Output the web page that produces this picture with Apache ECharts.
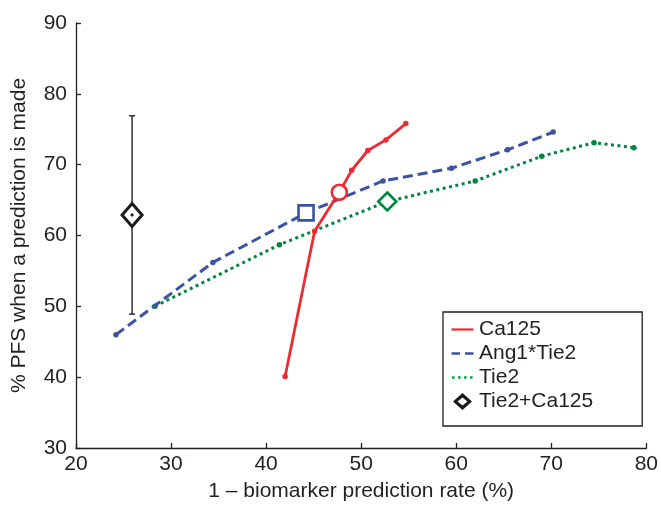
<!DOCTYPE html>
<html>
<head>
<meta charset="utf-8">
<script src="https://cdn.jsdelivr.net/npm/echarts@6/dist/echarts.min.js"></script>
<style>
html,body{margin:0;padding:0;background:#fff;}
#chart{width:661px;height:507px;}
</style>
</head>
<body>
<div id="chart"></div>
<script>
// ---- data ----
var ca125X = [42.0, 45.1, 47.7, 49.0, 50.7, 52.6, 54.7];
var ca125Y = [40.1, 60.6, 66.1, 69.2, 72.0, 73.5, 75.8];
var ca125Highlight = 2;

var angX = [24.2, 34.4, 44.2, 52.3, 59.5, 65.4, 70.2];
var angY = [46.0, 56.2, 63.2, 67.7, 69.5, 72.1, 74.6];
var angHighlight = 2;

var tie2X = [28.3, 41.4, 52.75, 62.0, 69.0, 74.5, 78.7];
var tie2Y = [50.0, 58.7, 64.8, 67.7, 71.2, 73.1, 72.4];
var tie2Highlight = 2;

var comboX = [25.9];
var comboY = [62.9];
var comboLow = [48.9];
var comboHigh = [76.9];

var xTicks = [20, 30, 40, 50, 60, 70, 80];
var yTicks = [30, 40, 50, 60, 70, 80, 90];
var seriesNames = ['Ca125', 'Ang1*Tie2', 'Tie2', 'Tie2+Ca125'];

// ---- styles ----
var RED = '#ec2a30', BLUE = '#3a53a4', GREEN = '#00853f', BLACK = '#1a1a1a';
var FONT = 'Liberation Sans, Arial, Helvetica, sans-serif';
var TXT = '#231f20';
var FS = 21;

function buildLine(xs, ys, hi, color, bigSymbol, bigSize) {
  return xs.map(function (x, i) {
    if (i === hi) {
      return {
        value: [x, ys[i]],
        symbol: bigSymbol,
        symbolSize: bigSize,
        itemStyle: { color: '#fff', borderColor: color, borderWidth: 2.6 },
        z: 10
      };
    }
    return { value: [x, ys[i]] };
  });
}

var chart = echarts.init(document.getElementById('chart'), null, { renderer: 'canvas' });

var axisCommon = {
  type: 'value',
  interval: 10,
  axisLine: { show: true, lineStyle: { color: TXT, width: 1.3 } },
  axisTick: { show: true, inside: true, length: 5, lineStyle: { color: TXT, width: 1.3 } },
  splitLine: { show: false },
  nameLocation: 'middle',
  nameTextStyle: { fontFamily: FONT, fontSize: FS, color: TXT }
};

var option = {
  animation: false,
  backgroundColor: '#fff',
  grid: { left: 76, right: 14, top: 23, bottom: 55 },
  xAxis: Object.assign({}, axisCommon, {
    min: xTicks[0], max: xTicks[xTicks.length - 1],
    name: '1 \u2013 biomarker prediction rate (%)',
    nameGap: 33,
    axisLabel: { fontFamily: FONT, fontSize: FS, color: TXT, margin: 6 }
  }),
  yAxis: Object.assign({}, axisCommon, {
    min: yTicks[0], max: yTicks[yTicks.length - 1],
    name: '% PFS when a prediction is made',
    nameGap: 46,
    axisLabel: { fontFamily: FONT, fontSize: FS, color: TXT, margin: 9 }
  }),
  legend: {
    orient: 'vertical',
    left: 443,
    top: 312,
    padding: [7, 49, 14, 8],
    itemGap: 3,
    itemWidth: 23,
    itemHeight: 17,
    borderColor: TXT,
    borderWidth: 1.3,
    backgroundColor: '#fff',
    textStyle: { fontFamily: FONT, fontSize: FS, color: TXT, padding: [0, 0, 0, 0] },
    itemStyle: { borderWidth: 0 },
    data: [
      { name: seriesNames[0], icon: 'path://M0,0M23,17M0.5,7.4h22v2.2h-22z', itemStyle: { color: RED, borderWidth: 0 } },
      { name: seriesNames[1], icon: 'path://M0,0M23,17M0.5,7.2h8.5v2.6h-8.5zM14,7.2h8.5v2.6h-8.5z', itemStyle: { color: BLUE, borderWidth: 0 } },
      { name: seriesNames[2], icon: 'path://M0,0M23,17M1,7.2h2.6v2.6h-2.6zM7,7.2h2.6v2.6h-2.6zM13,7.2h2.6v2.6h-2.6zM19,7.2h2.6v2.6h-2.6z', itemStyle: { color: '#00a651', borderWidth: 0 } },
      { name: seriesNames[3], icon: 'path://M0,0M23,17M11.5,0L21,8.5L11.5,17L2,8.5ZM11.5,4.4L6.6,8.5L11.5,12.6L16.4,8.5Z', itemStyle: { color: BLACK, borderWidth: 0 } }
    ]
  },
  series: [
    {
      name: seriesNames[1],
      type: 'line',
      data: buildLine(angX, angY, angHighlight, BLUE, 'rect', 15),
      symbol: 'circle',
      symbolSize: 5.5,
      showAllSymbol: true,
      itemStyle: { color: BLUE },
      lineStyle: { color: BLUE, width: 3, type: [10, 5] },
      z: 3
    },
    {
      name: seriesNames[2],
      type: 'line',
      data: buildLine(tie2X, tie2Y, tie2Highlight, GREEN, 'diamond', 18),
      symbol: 'circle',
      symbolSize: 5.5,
      showAllSymbol: true,
      itemStyle: { color: GREEN },
      lineStyle: { color: GREEN, width: 3, type: [3, 3.5] },
      z: 2
    },
    {
      name: seriesNames[0],
      type: 'line',
      data: buildLine(ca125X, ca125Y, ca125Highlight, RED, 'circle', 15),
      symbol: 'circle',
      symbolSize: 5.5,
      showAllSymbol: true,
      itemStyle: { color: RED },
      lineStyle: { color: RED, width: 2.8 },
      z: 4
    },
    {
      name: seriesNames[3],
      type: 'custom',
      itemStyle: { color: BLACK },
      data: comboX.map(function (x, i) { return [x, comboY[i], comboLow[i], comboHigh[i]]; }),
      encode: { x: 0, y: 1 },
      renderItem: function (params, api) {
        var c = api.coord([api.value(0), api.value(1)]);
        var lo = api.coord([api.value(0), api.value(2)]);
        var hi = api.coord([api.value(0), api.value(3)]);
        var cap = 3;
        var lw = 1.4;
        var hw = 10, hh = 11.5;
        return {
          type: 'group',
          children: [
            { type: 'line', shape: { x1: lo[0], y1: lo[1], x2: hi[0], y2: hi[1] }, style: { stroke: '#222', lineWidth: lw } },
            { type: 'line', shape: { x1: lo[0] - cap, y1: lo[1], x2: lo[0] + cap, y2: lo[1] }, style: { stroke: '#222', lineWidth: lw } },
            { type: 'line', shape: { x1: hi[0] - cap, y1: hi[1], x2: hi[0] + cap, y2: hi[1] }, style: { stroke: '#222', lineWidth: lw } },
            { type: 'polygon', shape: { points: [[c[0], c[1] - hh], [c[0] + hw, c[1]], [c[0], c[1] + hh], [c[0] - hw, c[1]]] },
              style: { fill: '#fff', stroke: BLACK, lineWidth: 3 } },
            { type: 'circle', shape: { cx: c[0], cy: c[1], r: 1.6 }, style: { fill: BLACK } }
          ]
        };
      },
      z: 5
    }
  ]
};

chart.setOption(option);
</script>
</body>
</html>
